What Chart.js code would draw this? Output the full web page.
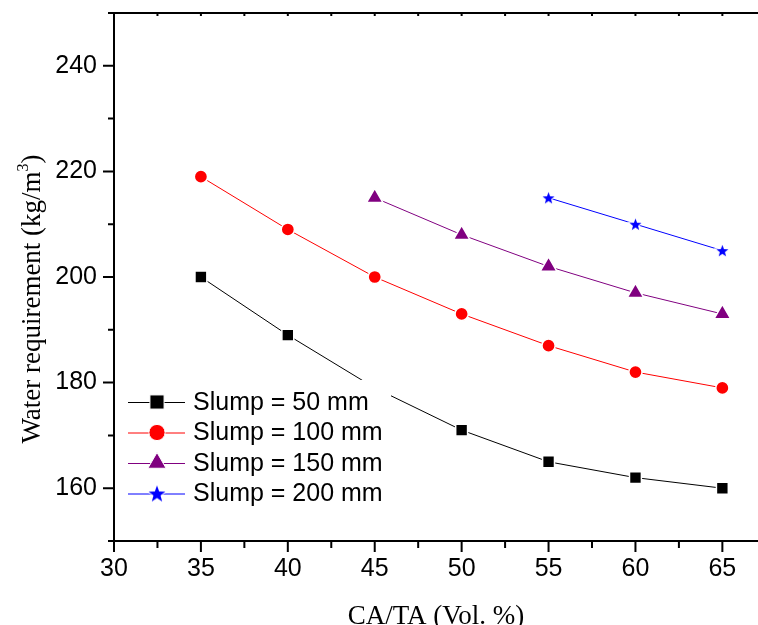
<!DOCTYPE html>
<html>
<head>
<meta charset="utf-8">
<title>Water requirement vs CA/TA</title>
<script src="https://cdn.jsdelivr.net/npm/chart.js@4.4.1/dist/chart.umd.min.js"></script>
<style>
  html, body { margin: 0; padding: 0; background: #fff; }
  #wrap { width: 758px; height: 625px; }
</style>
</head>
<body>
<div id="wrap"><canvas id="waterChart" width="758" height="625"></canvas></div>
<script>
// ================= DATA =================
const caTa = [35, 40, 45, 50, 55, 60, 65];

const slump50 = [200, 189, 179, 171, 165, 162, 160];
const slump100 = [219, 209, 200, 193, 187, 182, 179];
const slump150 = [null, null, 215, 208, 202, 197, 193];
const slump200 = [null, null, null, null, 215, 210, 205];

const seriesLabels = ["Slump = 50 mm", "Slump = 100 mm", "Slump = 150 mm", "Slump = 200 mm"];

const xTicks = [30, 35, 40, 45, 50, 55, 60, 65];
const xMinor = [32.5, 37.5, 42.5, 47.5, 52.5, 57.5, 62.5];
const yTicks = [160, 180, 200, 220, 240];
const yMinor = [150, 170, 190, 210, 230, 250];

const xTitle = "CA/TA (Vol. %)";
const yTitle = "Water requirement (kg/m";

// ================= HELPERS =================
function toPoints(values) {
    return caTa
        .map((x, i) => ({ x: x, y: values[i] }))
        .filter(p => p.y !== null);
}

function makeStar(outer, color) {
    const size = Math.ceil(outer * 2 + 4);
    const c = document.createElement("canvas");
    c.width = size;
    c.height = size;
    const g = c.getContext("2d");
    const cx = size / 2, cy = size / 2 + outer * 0.1, inner = outer * 0.42;
    g.beginPath();
    for (let i = 0; i < 10; i++) {
        const r = i % 2 === 0 ? outer : inner;
        const a = -Math.PI / 2 + i * Math.PI / 5;
        g.lineTo(cx + r * Math.cos(a), cy + r * Math.sin(a));
    }
    g.closePath();
    g.lineWidth = 2;
    g.strokeStyle = "#fff";
    g.stroke();
    g.fillStyle = color;
    g.fill();
    return c;
}

const starSmall = makeStar(6.3, "#0000ff");
const starBig = makeStar(8.8, "#0000ff");

// ================= PLUGINS =================
const frameAndTicks = {
    id: "frameAndTicks",
    afterDraw(chart) {
        const { ctx, chartArea: a, scales: { x, y } } = chart;
        ctx.save();
        ctx.strokeStyle = "#000";
        ctx.lineWidth = 2;
        ctx.beginPath();
        // axis lines
        ctx.moveTo(a.left, a.top);
        ctx.lineTo(a.left, a.bottom);
        ctx.moveTo(a.left - 1, a.bottom);
        ctx.lineTo(a.right, a.bottom);
        ctx.moveTo(a.left, a.top);
        ctx.lineTo(a.right, a.top);

        // bottom ticks, outward
        xTicks.forEach(v => {
            const px = x.getPixelForValue(v);
            ctx.moveTo(px, a.bottom);
            ctx.lineTo(px, a.bottom + 11);
        });
        xMinor.forEach(v => {
            const px = x.getPixelForValue(v);
            ctx.moveTo(px, a.bottom);
            ctx.lineTo(px, a.bottom + 7);
        });

        // top ticks, inward
        xTicks.concat(xMinor).forEach(v => {
            const px = x.getPixelForValue(v);
            ctx.moveTo(px, a.top);
            ctx.lineTo(px, a.top + 3);
        });

        // left ticks, outward
        yTicks.forEach(v => {
            const py = y.getPixelForValue(v);
            ctx.moveTo(a.left, py);
            ctx.lineTo(a.left - 11, py);
        });
        yMinor.forEach(v => {
            const py = y.getPixelForValue(v);
            ctx.moveTo(a.left, py);
            ctx.lineTo(a.left - 6, py);
        });
        ctx.stroke();

        // y title with superscript
        ctx.fillStyle = "#000";
        ctx.textBaseline = "alphabetic";
        ctx.font = "27px 'Liberation Serif'";
        const w1 = ctx.measureText(yTitle).width;
        const w3 = ctx.measureText(")").width;
        ctx.font = "16px 'Liberation Serif'";
        const w2 = ctx.measureText("3").width;
        const total = w1 + w2 + w3;
        ctx.translate(40, (a.top + a.bottom) / 2 + 22);
        ctx.rotate(-Math.PI / 2);
        let tx = -total / 2;
        ctx.font = "27px 'Liberation Serif'";
        ctx.fillText(yTitle, tx, 0);
        tx += w1;
        ctx.font = "16px 'Liberation Serif'";
        ctx.fillText("3", tx, -12);
        tx += w2;
        ctx.font = "27px 'Liberation Serif'";
        ctx.fillText(")", tx, 0);
        ctx.restore();
    }
};

const insideLegend = {
    id: "insideLegend",
    afterDatasetsDraw(chart) {
        const { ctx, chartArea: a } = chart;
        const left = a.left + 14;
        const top = a.top + 389;
        ctx.save();

        // opaque legend box (hides what lies under it, as in the original)
        ctx.fillStyle = "#fff";
        ctx.fillRect(a.left + 2, a.top + 367, 275, 130);

        chart.data.datasets.forEach((ds, i) => {
            const yy = top + i * 30.5;
            ctx.strokeStyle = ds.borderColor;
            ctx.lineWidth = 1;
            ctx.beginPath();
            ctx.moveTo(left, yy + 0.5);
            ctx.lineTo(left + 57, yy + 0.5);
            ctx.stroke();

            ctx.fillStyle = ds.pointBackgroundColor;
            ctx.strokeStyle = "#fff";
            Chart.helpers.drawPoint(ctx, {
                pointStyle: ds.legendStyle,
                rotation: 0,
                radius: ds.legendRadius,
                borderWidth: 1.5
            }, left + 29, yy);

            ctx.fillStyle = "#000";
            ctx.font = "25px 'Liberation Sans'";
            ctx.textBaseline = "middle";
            ctx.textAlign = "left";
            ctx.fillText(ds.label, left + 65, yy + 1);
        });
        ctx.restore();
    }
};

// ================= CHART =================
const canvas = document.getElementById("waterChart");

new Chart(canvas, {
    type: "line",
    data: {
        datasets: [
            {
                label: seriesLabels[0],
                data: toPoints(slump50),
                borderColor: "#000000",
                pointBackgroundColor: "#000000",
                pointStyle: "rect",
                pointRadius: 8.4,
                legendStyle: "rect",
                legendRadius: 10
            },
            {
                label: seriesLabels[1],
                data: toPoints(slump100),
                borderColor: "#ff0000",
                pointBackgroundColor: "#ff0000",
                pointStyle: "circle",
                pointRadius: 6.6,
                legendStyle: "circle",
                legendRadius: 8.1
            },
            {
                label: seriesLabels[2],
                data: toPoints(slump150),
                borderColor: "#800080",
                pointBackgroundColor: "#800080",
                pointStyle: "triangle",
                pointRadius: 9.5,
                legendStyle: "triangle",
                legendRadius: 10.5
            },
            {
                label: seriesLabels[3],
                data: toPoints(slump200),
                borderColor: "#0000ff",
                pointBackgroundColor: "#0000ff",
                pointStyle: starSmall,
                pointRadius: 7,
                legendStyle: starBig,
                legendRadius: 9
            }
        ].map(ds => Object.assign({
            borderWidth: 1,
            pointBorderColor: "#ffffff",
            pointBorderWidth: 1.5,
            tension: 0,
            fill: false
        }, ds))
    },
    options: {
        responsive: false,
        devicePixelRatio: 1,
        animation: false,
        events: [],
        layout: {
            autoPadding: false,
            padding: { top: 13, right: 0, bottom: 0, left: 0 }
        },
        plugins: {
            legend: { display: false },
            tooltip: { enabled: false }
        },
        scales: {
            x: {
                type: "linear",
                min: 30,
                max: 67.05,
                grid: { display: false, drawTicks: false },
                border: { display: false },
                ticks: {
                    color: "#000",
                    font: { family: "'Liberation Sans'", size: 25 },
                    padding: 13,
                    maxRotation: 0
                },
                title: {
                    display: true,
                    text: xTitle,
                    color: "#000",
                    font: { family: "'Liberation Serif'", size: 27 },
                    padding: { top: 0, bottom: -8 }
                },
                afterBuildTicks: s => { s.ticks = xTicks.map(v => ({ value: v })); },
                afterFit: s => {
                    s.height = 84;
                    s.paddingLeft = 0;
                    s.paddingRight = 0;
                }
            },
            y: {
                type: "linear",
                min: 150,
                max: 250,
                grid: { display: false, drawTicks: false },
                border: { display: false },
                ticks: {
                    color: "#000",
                    font: { family: "'Liberation Sans'", size: 25 },
                    padding: 17
                },
                afterBuildTicks: s => { s.ticks = yTicks.map(v => ({ value: v })); },
                afterFit: s => {
                    s.width = 114;
                    s.paddingTop = 0;
                    s.paddingBottom = 0;
                }
            }
        }
    },
    plugins: [frameAndTicks, insideLegend]
});
</script>
</body>
</html>
